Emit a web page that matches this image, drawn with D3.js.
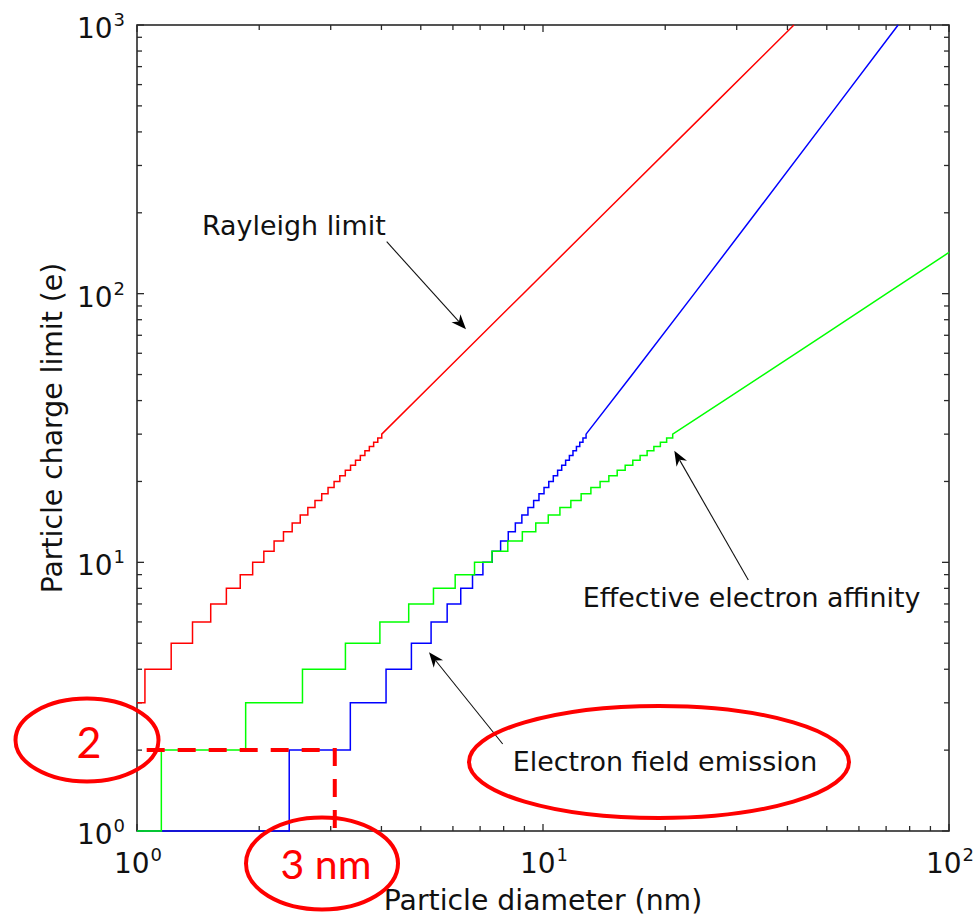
<!DOCTYPE html>
<html><head><meta charset="utf-8">
<script src="https://cdn.jsdelivr.net/npm/d3@7"></script>
<style>
body{margin:0;background:#fff;}
svg{display:block;font-family:"DejaVu Sans",sans-serif;}
</style>
</head><body>
<svg id="chart" width="974" height="919"></svg>
<script>
// ---------- DATA ----------
const xTicks = [1, 10, 100];
const yTicks = [1, 10, 100, 1000];
const xTickLabels = [["10","0"],["10","1"],["10","2"]];
const yTickLabels = [["10","0"],["10","1"],["10","2"],["10","3"]];

// Rayleigh limit: step onsets [diameter (nm), charge (e)]
const rayleighSteps = [[1.000,3],[1.046,4],[1.214,5],[1.370,6],[1.519,7],[1.660,8],[1.796,9],[1.927,10],
  [2.053,11],[2.176,12],[2.295,13],[2.411,14],[2.524,15],[2.635,16],[2.744,17],[2.851,18],[2.955,19],
  [3.058,20],[3.159,21],[3.259,22],[3.357,23],[3.453,24],[3.549,25],[3.642,26],[3.735,27],[3.827,28],[3.918,29]];
const rayleighLine = [[4.007,30],[5.633,50],[8.940,100],[14.19,200],[26.15,500],[41.50,1000]];

// Electron field emission
const fieldSteps = [[1.000,1],[2.371,2],[3.353,3],[4.106,4],[4.741,5],[5.301,6],[5.807,7],[6.272,8],[6.705,9],
  [7.112,10],[7.497,11],[7.863,12],[8.212,13],[8.548,14],[8.870,15],[9.182,16],[9.483,17],[9.774,18],[10.058,19],
  [10.333,20],[10.602,21],[10.864,22],[11.119,23],[11.369,24],[11.614,25],[11.853,26],[12.088,27],[12.318,28],[12.544,29]];
const fieldLine = [[12.766,30],[16.595,50],[23.588,100],[33.442,200],[52.957,500],[74.93,1000]];

// Effective electron affinity
const affinitySteps = [[1.000,1],[1.148,2],[1.852,3],[2.556,4],[3.261,5],[3.965,6],[4.669,7],[5.373,8],[6.077,9],
  [6.782,10],[7.486,11],[8.190,12],[8.894,13],[9.599,14],[10.303,15],[11.007,16],[11.711,17],[12.415,18],[13.120,19],
  [13.824,20],[14.528,21],[15.232,22],[15.937,23],[16.641,24],[17.345,25],[18.049,26],[18.754,27],[19.458,28],[20.162,29]];
const affinityLine = [[20.866,30],[27.91,40],[34.951,50],[49.04,70],[70.162,100],[100,142.4]];

const seriesNames = ["Rayleigh limit", "Electron field emission", "Effective electron affinity"];
const seriesColors = ["#ff0000", "#0000ff", "#00ff00"];

// annotation anchors in data units [diameter, charge], same order as seriesNames
const labelAnchors = [[1.446,165.2],[8.42,1.672],[12.53,6.84]];
const arrowFrom = [[4.121,156.1],[7.957,2.108],[32.04,8.59]];
const arrowTo = [[6.462,73.65],[5.239,4.624],[21.06,26.02]];
const highlightCharge = 2;
const highlightDiameter = 3.07;

// ---------- LAYOUT ----------
const W = 974, H = 919;
const m = {left:137, top:25, right:25, bottom:88};
const pw = W - m.left - m.right, ph = H - m.top - m.bottom;

const svg = d3.select("#chart");
const x = d3.scaleLog().domain([1,100]).range([m.left, m.left+pw]);
const y = d3.scaleLog().domain([1,1000]).range([m.top+ph, m.top]);

const minorX = [], minorY = [];
[1,10].forEach(b => { for (let k=2;k<=9;k++) minorX.push(b*k); });
[1,10,100].forEach(b => { for (let k=2;k<=9;k++) minorY.push(b*k); });

const axisColor = "#2a2a2a";
const gA = svg.append("g");
const MAJ = 7, MIN = 5;
[[xTicks,MAJ],[minorX,MIN]].forEach(([arr,len]) => {
  arr.forEach(v => {
    const px = x(v);
    gA.append("line").attr("x1",px).attr("x2",px).attr("y1",m.top+ph).attr("y2",m.top+ph-len)
      .attr("stroke",axisColor).attr("stroke-width",1.3);
    gA.append("line").attr("x1",px).attr("x2",px).attr("y1",m.top).attr("y2",m.top+len)
      .attr("stroke",axisColor).attr("stroke-width",1.3);
  });
});
[[yTicks,MAJ],[minorY,MIN]].forEach(([arr,len]) => {
  arr.forEach(v => {
    const py = y(v);
    gA.append("line").attr("x1",m.left).attr("x2",m.left+len).attr("y1",py).attr("y2",py)
      .attr("stroke",axisColor).attr("stroke-width",1.3);
    gA.append("line").attr("x1",m.left+pw).attr("x2",m.left+pw-len).attr("y1",py).attr("y2",py)
      .attr("stroke",axisColor).attr("stroke-width",1.3);
  });
});
gA.append("rect").attr("x",m.left).attr("y",m.top).attr("width",pw).attr("height",ph)
  .attr("fill","none").attr("stroke",axisColor).attr("stroke-width",1.6);

function supText(g, px, py, lab, anchor) {
  const t = g.append("text").attr("x",px).attr("y",py).attr("text-anchor",anchor)
    .attr("font-size",28).attr("fill","#111");
  t.append("tspan").text(lab[0]);
  t.append("tspan").attr("dy",-12).attr("dx",1).attr("font-size",18).text(lab[1]);
}
xTicks.forEach((v,i) => supText(gA, x(v)+1, m.top+ph+42, xTickLabels[i], "middle"));
yTicks.forEach((v,i) => supText(gA, m.left-12, y(v)+13, yTickLabels[i], "end"));

gA.append("text").attr("x", m.left+pw/2).attr("y", 910).attr("text-anchor","middle")
  .attr("font-size",28.3).attr("fill","#111").text("Particle diameter (nm)");
gA.append("text").attr("transform",`translate(62,${m.top+ph/2}) rotate(-90)`).attr("text-anchor","middle")
  .attr("font-size",28.3).attr("fill","#111").text("Particle charge limit (e)");

function stairs(steps, line) {
  const pts = [];
  steps.forEach((s,i) => {
    pts.push(s);
    const next = (i+1 < steps.length) ? steps[i+1] : line[0];
    pts.push([next[0], s[1]]);
  });
  line.forEach(p => pts.push(p));
  return pts;
}
const lineGen = d3.line().x(d => x(d[0])).y(d => y(d[1]));
const allSeries = [stairs(rayleighSteps, rayleighLine), stairs(fieldSteps, fieldLine), stairs(affinitySteps, affinityLine)];
const gS = svg.append("g");
allSeries.forEach((pts,i) => {
  gS.append("path").attr("d", lineGen(pts)).attr("fill","none")
    .attr("stroke", seriesColors[i]).attr("stroke-width",1.5).attr("stroke-linejoin","miter");
});

const gN = svg.append("g");
seriesNames.forEach((name,i) => {
  gN.append("text").attr("x", x(labelAnchors[i][0])).attr("y", y(labelAnchors[i][1]))
    .attr("font-size",26.9).attr("fill","#111").text(name);
  const x1 = x(arrowFrom[i][0]), y1 = y(arrowFrom[i][1]);
  const x2 = x(arrowTo[i][0]), y2 = y(arrowTo[i][1]);
  const ang = Math.atan2(y2-y1, x2-x1);
  const L = 15, Wd = 6;
  const bx = x2 - L*Math.cos(ang), by = y2 - L*Math.sin(ang);
  const nx = x2 - 0.7*L*Math.cos(ang), ny = y2 - 0.7*L*Math.sin(ang);
  gN.append("line").attr("x1",x1).attr("y1",y1).attr("x2",nx).attr("y2",ny)
    .attr("stroke","#111").attr("stroke-width",1.1);
  const pl = [[x2,y2],[bx + Wd*Math.sin(ang), by - Wd*Math.cos(ang)],[nx,ny],[bx - Wd*Math.sin(ang), by + Wd*Math.cos(ang)]];
  gN.append("polygon").attr("points", pl.map(p=>p.join(",")).join(" ")).attr("fill","#000");
});

const gH = svg.append("g");
const hx = x(highlightDiameter), hy = y(highlightCharge);
gH.append("path").attr("d", `M${x(1.0565)},${hy}H${hx}V${y(1)}`).attr("fill","none")
  .attr("stroke","#ff0000").attr("stroke-width",4).attr("stroke-dasharray","18,13");
gH.append("ellipse").attr("cx",87).attr("cy",740).attr("rx",71.5).attr("ry",41.5)
  .attr("fill","none").attr("stroke","#ff0000").attr("stroke-width",4);
gH.append("text").attr("x",89).attr("y",758).attr("text-anchor","middle")
  .attr("font-family","Lato, 'Open Sans', sans-serif").attr("font-size",43).attr("fill","#ff0000").text(String(highlightCharge));
gH.append("ellipse").attr("cx",322).attr("cy",863.5).attr("rx",76).attr("ry",46)
  .attr("fill","none").attr("stroke","#ff0000").attr("stroke-width",4);
gH.append("text").attr("x",326).attr("y",879).attr("text-anchor","middle")
  .attr("font-family","Lato, 'Open Sans', sans-serif").attr("font-size",41).attr("fill","#ff0000").text("3 nm");
gH.append("ellipse").attr("cx",659).attr("cy",762).attr("rx",190).attr("ry",56)
  .attr("fill","none").attr("stroke","#ff0000").attr("stroke-width",4);
</script>
</body></html>
